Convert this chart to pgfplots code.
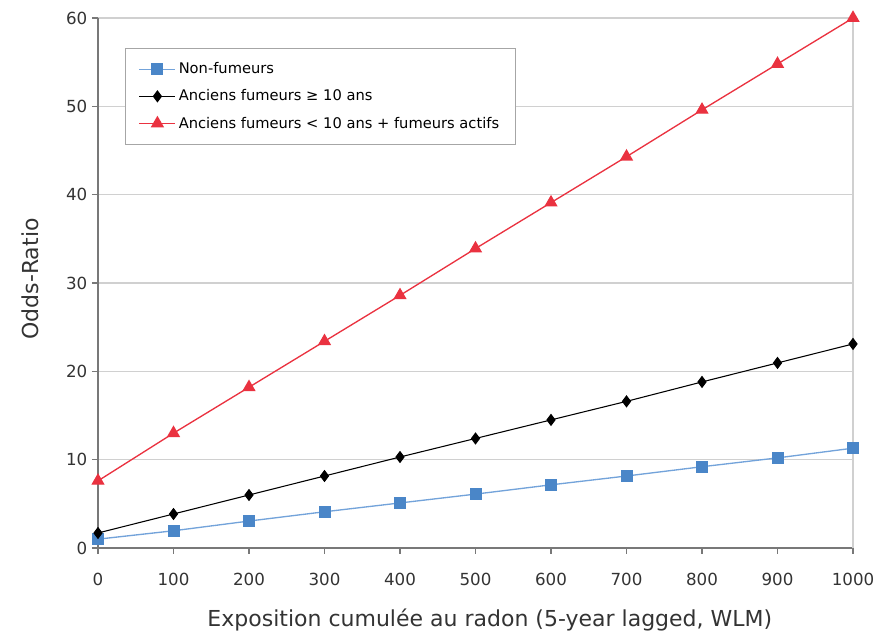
\documentclass[border=0pt]{standalone}
\usepackage{pgfplots}
\pgfplotsset{compat=1.18}
\usepackage{fontspec}
\setmainfont{DejaVu Sans}
\definecolor{nfblue}{RGB}{74,134,200}
\definecolor{nfline}{RGB}{115,163,218}
\definecolor{afred}{RGB}{234,50,64}
\definecolor{gridgray}{RGB}{208,208,208}
\definecolor{axgray}{RGB}{120,120,120}
\begin{document}
\begin{tikzpicture}
\useasboundingbox (-73.5pt,-64.5pt) rectangle (586.5pt,411pt);
\begin{axis}[
  at={(0pt,0pt)}, anchor=south west,
  scale only axis, width=566.25pt, height=397.5pt,
  xmin=0, xmax=1000, ymin=0, ymax=60,
  xtick={0,100,...,1000}, ytick={0,10,...,60},
  axis x line*=bottom, axis y line*=left,
  axis line style={axgray, line width=1.5pt},
  ymajorgrids, grid style={gridgray, line width=0.9pt},
  tick align=outside, major tick length=4.5pt,
  tick style={axgray, line width=0.8pt},
  ticklabel style={font=\fontsize{12.5}{14}\selectfont, text=black!80},
  xticklabel style={yshift=-11pt},
  /pgf/number format/assume math mode=true,
  /pgf/number format/1000 sep={},
  xlabel={Exposition cumulée au radon (5-year lagged, WLM)},
  ylabel={Odds-Ratio},
  every axis x label/.style={at={(axis description cs:0.519,-0.1358)}, anchor=center, font=\fontsize{16.5}{18}\selectfont, text=black!80},
  every axis y label/.style={at={(axis description cs:-0.090,0.5075)}, rotate=90, anchor=center, font=\fontsize{16.5}{18}\selectfont, text=black!80},
  clip=false,
  legend style={at={(0.0358,0.943)}, anchor=north west, draw=gray!70, line width=0.6pt,
    font=\fontsize{11}{13}\selectfont, inner xsep=10pt, inner ysep=8.5pt, row sep=6.5pt},
  legend cell align=left,
  legend image code/.code={\draw[mark repeat=2,mark phase=2] plot coordinates {(0pt,0pt) (13.5pt,0pt) (27pt,0pt)};},
]
\draw[gridgray, line width=0.9pt] (rel axis cs:1,0) -- (rel axis cs:1,1);
\addplot[nfline, line width=1pt, mark=square*, mark size=4pt, mark options={fill=nfblue, draw=nfblue}]
  coordinates {(0,1.0)(100,1.95)(200,3.05)(300,4.1)(400,5.1)(500,6.1)(600,7.15)(700,8.15)(800,9.2)(900,10.2)(1000,11.3)};
\addlegendentry{Non-fumeurs}
\addplot[black, line width=0.8pt, mark=diamond*, mark size=4pt, mark options={fill=black}]
  coordinates {(0,1.7)(100,3.85)(200,6.0)(300,8.15)(400,10.3)(500,12.4)(600,14.5)(700,16.6)(800,18.8)(900,20.95)(1000,23.1)};
\addlegendentry{Anciens fumeurs ≥ 10 ans}
\addplot[afred, line width=1pt, mark=triangle*, mark size=4.8pt, mark options={fill=afred}]
  coordinates {(0,7.6)(100,13.0)(200,18.2)(300,23.4)(400,28.6)(500,33.9)(600,39.1)(700,44.3)(800,49.6)(900,54.8)(1000,60.0)};
\addlegendentry{Anciens fumeurs < 10 ans + fumeurs actifs}
\end{axis}
\end{tikzpicture}
\end{document}
